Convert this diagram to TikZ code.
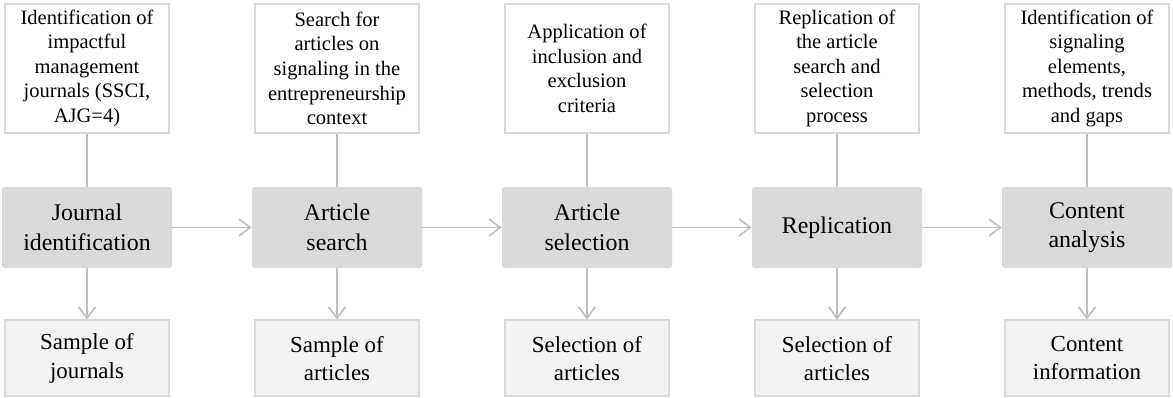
\documentclass[tikz,border=0pt]{standalone}
\usepackage{fontspec}
\setmainfont{Liberation Serif}
\usetikzlibrary{arrows.meta,positioning}
\definecolor{phasefill}{HTML}{D9D9D9}
\definecolor{resultfill}{HTML}{F2F2F2}
\definecolor{boxline}{HTML}{D9D9D9}
\definecolor{linkgray}{HTML}{BFBFBF}

\begin{document}
\begin{tikzpicture}[
    task/.style={draw=boxline,line width=1.2pt,fill=white,minimum width=4.1cm,minimum height=3.22cm,
      align=center,inner sep=1pt,font=\fontsize{14.6}{17.5}\selectfont},
    phase/.style={fill=phasefill,rounded corners=2pt,minimum width=4.25cm,minimum height=2.025cm,
      align=center,font=\fontsize{17}{21}\selectfont},
    result/.style={draw=boxline,line width=1.2pt,fill=resultfill,minimum width=4.1cm,minimum height=1.9cm,
      align=center,font=\fontsize{16.3}{20}\selectfont},
    link/.style={draw=linkgray,line width=1.2pt},
    flow/.style={link,-{Straight Barb[length=8pt,width=12pt,line width=1.2pt]}}
  ]
    \useasboundingbox (0,0) rectangle (29.325,-9.925);

    % main phases
    \node[phase] (journal) at (2.175,-5.6875) {Journal\\identification};
    \node[phase] (search) at (8.425,-5.6875) {Article\\search};
    \node[phase] (select) at (14.675,-5.6875) {Article\\selection};
    \node[phase] (replic) at (20.925,-5.6875) {Replication};
    \node[phase] (content) at (27.175,-5.6875) {Content\\analysis};

    % tasks
    \node[task,above=1.33cm of journal] (journaltask) {Identification of\\impactful\\management\\journals (SSCI,\\AJG=4)};
    \node[task,above=1.33cm of search] (searchtask) {Search for\\articles on\\signaling in the\\entrepreneurship\\context};
    \node[task,above=1.33cm of select] (selecttask) {Application of\\inclusion and\\exclusion\\criteria};
    \node[task,above=1.33cm of replic] (replictask) {Replication of\\the article\\search and\\selection\\process};
    \node[task,above=1.33cm of content] (contenttask) {Identification of\\signaling\\elements,\\methods, trends\\and gaps};

    % results
    \node[result,below=1.28cm of journal] (journalres) {Sample of\\journals};
    \node[result,below=1.28cm of search] (searchres) {Sample of\\articles};
    \node[result,below=1.28cm of select] (selectres) {Selection of\\articles};
    \node[result,below=1.28cm of replic] (replicres) {Selection of\\articles};
    \node[result,below=1.28cm of content] (contentres) {Content\\information};

    % connectors
    \draw[link] (journaltask) -- (journal);
    \draw[link] (searchtask) -- (search);
    \draw[link] (selecttask) -- (select);
    \draw[link] (replictask) -- (replic);
    \draw[link] (contenttask) -- (content);

    \draw[flow] (journal) -- (search);
    \draw[flow] (search) -- (select);
    \draw[flow] (select) -- (replic);
    \draw[flow] (replic) -- (content);

    \draw[flow] (journal) -- (journalres);
    \draw[flow] (search) -- (searchres);
    \draw[flow] (select) -- (selectres);
    \draw[flow] (replic) -- (replicres);
    \draw[flow] (content) -- (contentres);
  \end{tikzpicture}
\end{document}
